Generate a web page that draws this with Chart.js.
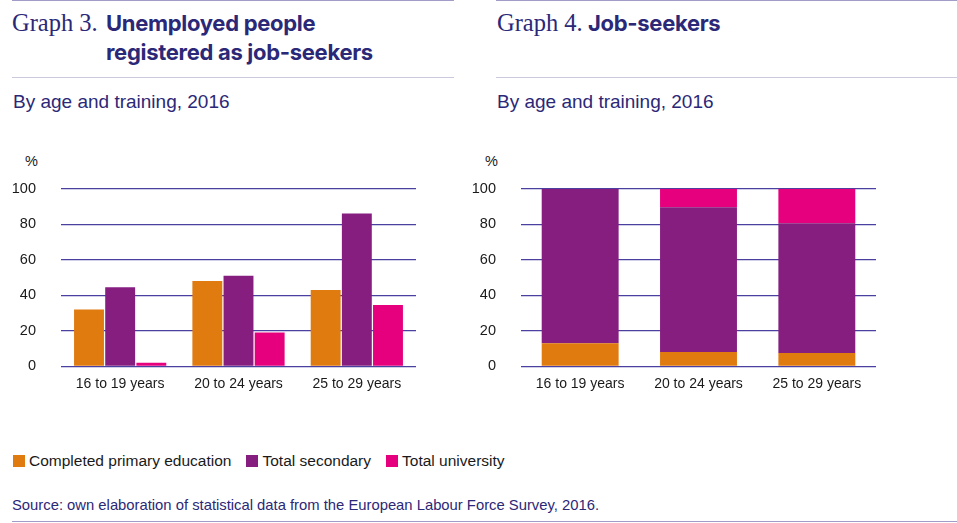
<!DOCTYPE html>
<html>
<head>
<meta charset="utf-8">
<script src="https://cdn.jsdelivr.net/npm/chart.js@4.4.1/dist/chart.umd.min.js"></script>
<style>
  html,body{margin:0;padding:0;background:#fff;}
  body{width:957px;height:523px;position:relative;overflow:hidden;font-family:"Liberation Sans",Arial,sans-serif;}
  .hline{position:absolute;height:0;}
  .gtitle{position:absolute;color:#2b2878;white-space:nowrap;}
  .serif{font-family:"Liberation Serif",serif;font-size:24.5px;}
  .bold{font-family:"Inter","Liberation Sans",sans-serif;font-weight:700;font-size:22px;letter-spacing:-0.3px;}
  .sub{position:absolute;color:#2b2878;font-family:"Liberation Sans",sans-serif;font-size:19px;white-space:nowrap;}
  .pct{position:absolute;font-size:14.5px;color:#1a1a1a;}
  #legend{position:absolute;left:13px;top:452px;font-size:15.5px;color:#1a1a1a;white-space:nowrap;}
  #legend span.item{display:inline-block;margin-right:15px;}
  #legend span.box{display:inline-block;width:12px;height:12px;vertical-align:-1px;margin-right:4px;}
  #source{position:absolute;left:12px;top:497px;font-size:14.8px;color:#2b2878;white-space:nowrap;}
  canvas{position:absolute;}
</style>
</head>
<body>
<div class="hline" style="left:12px;width:442px;top:0px;border-top:1.5px solid #a19dc8;"></div>
<div class="hline" style="left:496px;width:461px;top:0px;border-top:1.5px solid #a19dc8;"></div>
<div class="hline" style="left:12px;width:442px;top:77px;border-top:1.5px solid #cbc9dd;"></div>
<div class="hline" style="left:496px;width:461px;top:77px;border-top:1.5px solid #cbc9dd;"></div>

<div class="gtitle serif" style="left:12px;top:9px;">Graph 3.</div>
<div class="gtitle bold" style="left:106px;top:9px;line-height:29px;">Unemployed people<br>registered as job-seekers</div>
<div class="gtitle serif" style="left:497px;top:9px;">Graph 4.</div>
<div class="gtitle bold" style="left:588px;top:9px;line-height:29px;">Job-seekers</div>

<div class="sub" style="left:13px;top:91px;">By age and training, 2016</div>
<div class="sub" style="left:497px;top:91px;">By age and training, 2016</div>

<div class="pct" style="left:25px;top:153px;">%</div>
<div class="pct" style="left:485px;top:153px;">%</div>

<canvas id="c1" style="left:0px;top:155px;" width="430" height="245"></canvas>
<canvas id="c2" style="left:460px;top:155px;" width="430" height="245"></canvas>

<div id="legend"></div>
<div id="source">Source: own elaboration of statistical data from the European Labour Force Survey, 2016.</div>
<div class="hline" style="left:12px;width:945px;top:521px;border-top:1.5px solid #a19dc8;"></div>

<script>
// ---- data ----
const categories = ["16 to 19 years", "20 to 24 years", "25 to 29 years"];
const seriesNames = ["Completed primary education", "Total secondary", "Total university"];
const seriesColors = ["#e07b10", "#861e80", "#e6007e"];

// Graph 3: unemployed people registered as job-seekers (%)
const g3Primary    = [32, 48, 43];
const g3Secondary  = [44.5, 51, 86];
const g3University = [2, 19, 34.5];

// Graph 4: job-seekers composition (%)
const g4Primary    = [13, 8, 7.5];
const g4Secondary  = [87, 81.5, 73];
const g4University = [0, 10.5, 19.5];

const yTicks = [0, 20, 40, 60, 80, 100];

// ---- legend ----
const leg = document.getElementById('legend');
seriesNames.forEach((n,i)=>{
  const s = document.createElement('span'); s.className='item';
  s.innerHTML = '<span class="box" style="background:'+seriesColors[i]+'"></span>'+n;
  leg.appendChild(s);
});

const gridColor = '#4a40a0';
function makeOptions(stacked){
  return {
    responsive:false, animation:false,
    layout:{padding:{top:0,right:14,left:0,bottom:0}},
    plugins:{legend:{display:false},tooltip:{enabled:false}},
    scales:{
      x:{
        stacked:stacked,
        grid:{display:false,drawTicks:false},
        border:{display:false},
        ticks:{color:'#1a1a1a',font:{family:'Liberation Sans',size:14},padding:9},
        afterFit(s){s.height=33;}
      },
      y:{
        stacked:stacked,
        min:0,max:100,
        afterBuildTicks(s){s.ticks=yTicks.map(v=>({value:v}));},
        grid:{color:gridColor,lineWidth:1.2,drawTicks:false},
        border:{display:false},
        ticks:{color:'#1a1a1a',font:{family:'Liberation Sans',size:14.5},padding:25},
        afterFit(s){s.width=61;}
      }
    }
  };
}

new Chart(document.getElementById('c1'),{
  type:'bar',
  data:{labels:categories,datasets:[
    {label:seriesNames[0],data:g3Primary,backgroundColor:seriesColors[0],categoryPercentage:0.79,barPercentage:0.96},
    {label:seriesNames[1],data:g3Secondary,backgroundColor:seriesColors[1],categoryPercentage:0.79,barPercentage:0.96},
    {label:seriesNames[2],data:g3University,backgroundColor:seriesColors[2],categoryPercentage:0.79,barPercentage:0.96}
  ]},
  options:makeOptions(false)
});

new Chart(document.getElementById('c2'),{
  type:'bar',
  data:{labels:categories,datasets:[
    {label:seriesNames[0],data:g4Primary,backgroundColor:seriesColors[0],categoryPercentage:0.65,barPercentage:1},
    {label:seriesNames[1],data:g4Secondary,backgroundColor:seriesColors[1],categoryPercentage:0.65,barPercentage:1},
    {label:seriesNames[2],data:g4University,backgroundColor:seriesColors[2],categoryPercentage:0.65,barPercentage:1}
  ]},
  options:makeOptions(true)
});
</script>
</body>
</html>
